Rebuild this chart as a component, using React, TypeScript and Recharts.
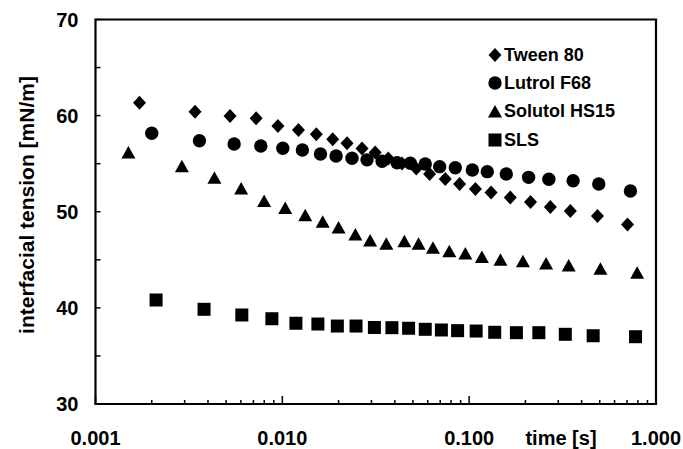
import React from "react";
import {
  ScatterChart,
  Scatter,
  XAxis,
  YAxis,
  ReferenceArea,
  Legend,
} from "recharts";

const FONT = "'Liberation Sans', Arial, sans-serif";

// Tween 80 (diamonds)
const tweenTime = [
  0.00172, 0.00341, 0.00525, 0.00724, 0.00947, 0.0122, 0.0152, 0.0186, 0.0222,
  0.0267, 0.0314, 0.0369, 0.0437, 0.0521, 0.0614, 0.0745, 0.0889, 0.108, 0.131,
  0.166, 0.213, 0.272, 0.348, 0.486, 0.704,
];
const tweenTension = [
  61.35, 60.41, 59.96, 59.72, 58.92, 58.5, 58.06, 57.54, 57.12, 56.58, 56.16,
  55.54, 55.02, 54.5, 53.93, 53.41, 52.89, 52.37, 52.0, 51.48, 51.01, 50.49,
  50.08, 49.56, 48.67,
];

// Lutrol F68 (circles)
const lutrolTime = [
  0.002, 0.0036, 0.00552, 0.00767, 0.01006, 0.0128, 0.016, 0.0194, 0.0236,
  0.0284, 0.0342, 0.0411, 0.0484, 0.0582, 0.0695, 0.0843, 0.104, 0.125, 0.158,
  0.208, 0.267, 0.36, 0.494, 0.73,
];
const lutrolTension = [
  58.16, 57.39, 57.05, 56.84, 56.6, 56.42, 56.01, 55.8, 55.56, 55.4, 55.26,
  55.1, 55.04, 54.97, 54.69, 54.58, 54.34, 54.17, 53.93, 53.58, 53.38, 53.23,
  52.89, 52.16,
];

// Solutol HS15 (triangles)
const solutolTime = [
  0.0015, 0.0029, 0.00433, 0.00602, 0.00799, 0.01036, 0.01326, 0.01645, 0.02,
  0.0246, 0.0295, 0.036, 0.045, 0.0536, 0.064, 0.0783, 0.0954, 0.117, 0.147,
  0.194, 0.258, 0.341, 0.504, 0.793,
];
const solutolTension = [
  56.11, 54.69, 53.48, 52.37, 51.07, 50.34, 49.59, 48.9, 48.31, 47.58, 46.96,
  46.61, 46.88, 46.61, 46.2, 45.84, 45.6, 45.24, 44.95, 44.8, 44.56, 44.36,
  44.01, 43.6,
];

// SLS (squares)
const slsTime = [
  0.00211, 0.00381, 0.00607, 0.00879, 0.01182, 0.0155, 0.0197, 0.0248, 0.0311,
  0.0386, 0.0474, 0.0582, 0.071, 0.0867, 0.109, 0.137, 0.179, 0.236, 0.327,
  0.461, 0.777,
];
const slsTension = [
  40.82, 39.85, 39.26, 38.87, 38.4, 38.32, 38.11, 38.11, 37.96, 37.94, 37.88,
  37.77, 37.7, 37.63, 37.59, 37.46, 37.42, 37.42, 37.25, 37.1, 37.0,
];

const xTicks = [
  0.001, 0.002, 0.003, 0.004, 0.005, 0.006, 0.007, 0.008, 0.009, 0.01, 0.02,
  0.03, 0.04, 0.05, 0.06, 0.07, 0.08, 0.09, 0.1, 0.2, 0.3, 0.4, 0.5, 0.6, 0.7,
  0.8, 0.9, 1,
];
const xLabelled = [0.001, 0.01, 0.1, 1];
const yTicks = [30, 35, 40, 45, 50, 55, 60, 65, 70];

const toPoints = (t: number[], v: number[]) =>
  t.map((time, i) => ({ time, tension: v[i] }));

const Diamond = (p: any) => (
  <polygon
    points={`${p.cx},${p.cy - 7} ${p.cx + 6.5},${p.cy} ${p.cx},${p.cy + 7} ${p.cx - 6.5},${p.cy}`}
    fill="#000"
  />
);
const Dot = (p: any) => <circle cx={p.cx} cy={p.cy} r={6.7} fill="#000" />;
const Tri = (p: any) => (
  <polygon
    points={`${p.cx},${p.cy - 7} ${p.cx + 7},${p.cy + 5.5} ${p.cx - 7},${p.cy + 5.5}`}
    fill="#000"
  />
);
const Square = (p: any) => (
  <rect x={p.cx - 6.5} y={p.cy - 6.5} width={13} height={13} fill="#000" />
);

const series = [
  { name: "Tween 80", data: toPoints(tweenTime, tweenTension), shape: Diamond },
  { name: "Lutrol F68", data: toPoints(lutrolTime, lutrolTension), shape: Dot },
  { name: "Solutol HS15", data: toPoints(solutolTime, solutolTension), shape: Tri },
  { name: "SLS", data: toPoints(slsTime, slsTension), shape: Square },
];

const XTick = (p: any) => {
  const v = p.payload.value;
  const major = xLabelled.includes(v);
  return (
    <g>
      <line
        x1={p.x}
        x2={p.x}
        y1={p.y}
        y2={p.y - (major ? 8 : 4)}
        stroke="#000"
        strokeWidth={1.5}
      />
      {major && (
        <text
          x={p.x}
          y={p.y + 41}
          textAnchor="middle"
          fontFamily={FONT}
          fontWeight="bold"
          fontSize={20}
          fill="#000"
        >
          {v.toFixed(3)}
        </text>
      )}
    </g>
  );
};

const YTick = (p: any) => {
  const v = p.payload.value;
  return (
    <g>
      <line x1={p.x} x2={p.x + 5} y1={p.y} y2={p.y} stroke="#000" strokeWidth={1.5} />
      {v % 10 === 0 && (
        <text
          x={p.x - 17}
          y={p.y + 7}
          textAnchor="end"
          fontFamily={FONT}
          fontWeight="bold"
          fontSize={20}
          fill="#000"
        >
          {v}
        </text>
      )}
    </g>
  );
};

const LegendBox = () => (
  <div style={{ fontFamily: FONT, fontWeight: "bold", fontSize: 18 }}>
    {series.map((s) => (
      <div
        key={s.name}
        style={{ display: "flex", alignItems: "center", height: 28.3 }}
      >
        <svg width={16} height={16} style={{ marginRight: 1 }}>
          {s.shape({ cx: 8, cy: 8 })}
        </svg>
        <span>{s.name}</span>
      </div>
    ))}
  </div>
);

export default function App() {
  return (
    <div style={{ position: "absolute", left: 0, top: 0, background: "#fff" }}>
      <ScatterChart
        width={683}
        height={449}
        margin={{ top: 19.5, right: 27, bottom: 15, left: 0 }}
      >
        <XAxis
          type="number"
          dataKey="time"
          scale="log"
          domain={[0.001, 1]}
          allowDataOverflow
          ticks={xTicks}
          interval={0}
          height={30}
          axisLine={false}
          tickLine={false}
          tickSize={0}
          tickMargin={0}
          tick={<XTick />}
          label={{
            content: () => (
              <text
                x={561}
                y={445}
                textAnchor="middle"
                fontFamily={FONT}
                fontWeight="bold"
                fontSize={20}
                fill="#000"
              >
                time [s]
              </text>
            ),
          }}
        />
        <YAxis
          type="number"
          dataKey="tension"
          domain={[30, 70]}
          ticks={yTicks}
          interval={0}
          width={95.5}
          axisLine={false}
          tickLine={false}
          tickSize={0}
          tickMargin={0}
          tick={<YTick />}
          label={{
            content: () => (
              <text
                transform="translate(34,205) rotate(-90)"
                textAnchor="middle"
                fontFamily={FONT}
                fontWeight="bold"
                fontSize={21}
                fill="#000"
              >
                interfacial tension [mN/m]
              </text>
            ),
          }}
        />
        <ReferenceArea
          x1={0.001}
          x2={1}
          y1={30}
          y2={70}
          fill="none"
          stroke="#000"
          strokeWidth={2.2}
          ifOverflow="visible"
        />
        <Legend
          layout="vertical"
          align="center"
          verticalAlign="middle"
          content={() => <LegendBox />}
          wrapperStyle={{ top: 41, left: 487, width: "auto" }}
        />
        {series.map((s) => (
          <Scatter
            key={s.name}
            name={s.name}
            data={s.data}
            fill="#000"
            shape={s.shape}
            isAnimationActive={false}
          />
        ))}
      </ScatterChart>
    </div>
  );
}
